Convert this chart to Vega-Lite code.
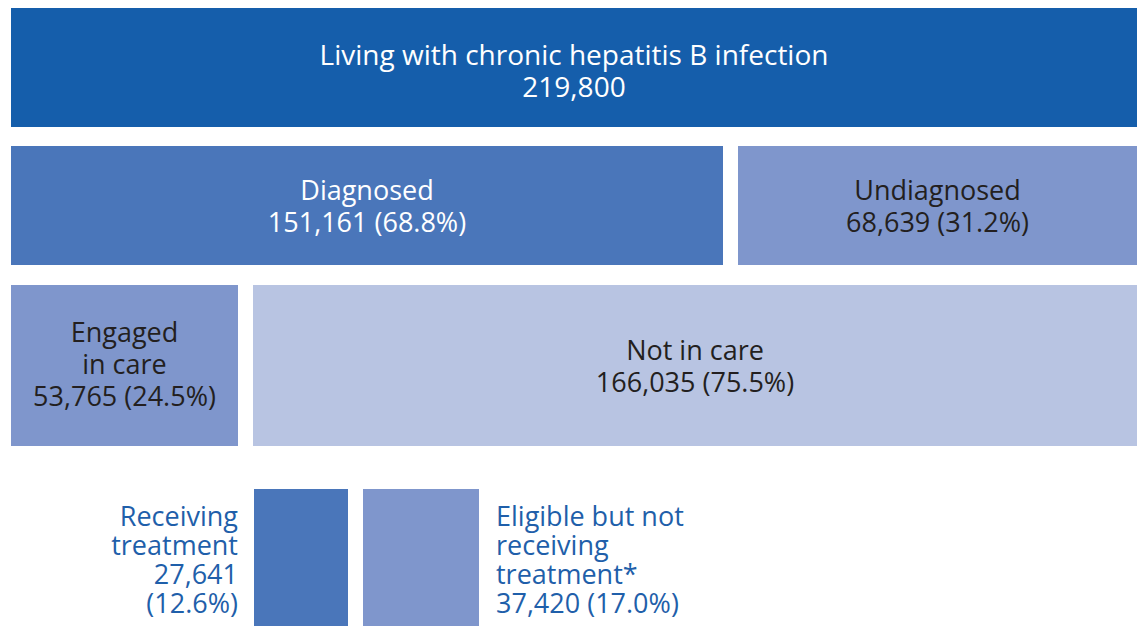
{
  "$schema": "https://vega.github.io/schema/vega-lite/v6.json",
  "width": 1137,
  "height": 626,
  "padding": 0,
  "autosize": {"type": "none"},
  "background": "white",
  "config": {"view": {"stroke": null}},
  "data": {
    "values": [
      {"label": "Living with chronic hepatitis B infection\n219,800", "count": 219800, "level": 1, "side": "center", "shade": "dark", "x0": 11, "x1": 1137, "y0": 8, "y1": 127},
      {"label": "Diagnosed\n151,161 (68.8%)", "count": 151161, "level": 2, "side": "center", "shade": "mid", "x0": 11, "x1": 723, "y0": 146, "y1": 265},
      {"label": "Undiagnosed\n68,639 (31.2%)", "count": 68639, "level": 2, "side": "center", "shade": "light", "x0": 738, "x1": 1137, "y0": 146, "y1": 265},
      {"label": "Engaged\nin care\n53,765 (24.5%)", "count": 53765, "level": 3, "side": "center", "shade": "light", "x0": 11, "x1": 238, "y0": 285, "y1": 446},
      {"label": "Not in care\n166,035 (75.5%)", "count": 166035, "level": 3, "side": "center", "shade": "pale", "x0": 253, "x1": 1137, "y0": 285, "y1": 446},
      {"label": "Receiving\ntreatment\n27,641\n(12.6%)", "count": 27641, "level": 4, "side": "left", "shade": "mid", "x0": 254, "x1": 348, "y0": 489, "y1": 626},
      {"label": "Eligible but not\nreceiving\ntreatment*\n37,420 (17.0%)", "count": 37420, "level": 4, "side": "right", "shade": "light", "x0": 363, "x1": 479, "y0": 489, "y1": 626}
    ]
  },
  "transform": [
    {"calculate": "(datum.x0 + datum.x1) / 2", "as": "cx"},
    {"calculate": "(datum.y0 + datum.y1) / 2", "as": "cy"}
  ],
  "resolve": {"scale": {"color": "independent"}},
  "layer": [
    {
      "mark": {"type": "rect"},
      "encoding": {
        "x": {"field": "x0", "type": "quantitative", "scale": {"domain": [0, 1137], "nice": false, "zero": false}, "axis": null},
        "x2": {"field": "x1"},
        "y": {"field": "y0", "type": "quantitative", "scale": {"domain": [0, 626], "nice": false, "zero": false, "reverse": true}, "axis": null},
        "y2": {"field": "y1"},
        "color": {"field": "shade", "type": "nominal", "legend": null,
          "scale": {"domain": ["dark", "mid", "light", "pale"], "range": ["#155EAB", "#4A76BA", "#7F96CC", "#B8C4E2"]}}
      }
    },
    {
      "transform": [{"filter": "datum.level == 1"}],
      "mark": {"type": "text", "align": "center", "baseline": "middle", "font": "Open Sans", "fontSize": 28, "lineHeight": 32, "lineBreak": "\n", "dy": -11, "color": "#FFFFFF"},
      "encoding": {
        "x": {"field": "cx", "type": "quantitative"},
        "y": {"field": "cy", "type": "quantitative"},
        "text": {"field": "label", "type": "nominal"}
      }
    },
    {
      "transform": [{"filter": "(datum.level == 2 || datum.level == 3) && length(split(datum.label, '\\n')) == 2"}],
      "mark": {"type": "text", "align": "center", "baseline": "middle", "font": "Open Sans", "fontSize": 27, "lineHeight": 32, "lineBreak": "\n", "dy": -14},
      "encoding": {
        "x": {"field": "cx", "type": "quantitative"},
        "y": {"field": "cy", "type": "quantitative"},
        "text": {"field": "label", "type": "nominal"},
        "color": {"field": "shade", "type": "nominal", "legend": null,
          "scale": {"domain": ["dark", "mid", "light", "pale"], "range": ["#FFFFFF", "#FFFFFF", "#231F20", "#231F20"]}}
      }
    },
    {
      "transform": [{"filter": "datum.level < 4 && length(split(datum.label, '\\n')) == 3"}],
      "mark": {"type": "text", "align": "center", "baseline": "middle", "font": "Open Sans", "fontSize": 27, "lineHeight": 32, "lineBreak": "\n", "dy": -32, "color": "#231F20"},
      "encoding": {
        "x": {"field": "cx", "type": "quantitative"},
        "y": {"field": "cy", "type": "quantitative"},
        "text": {"field": "label", "type": "nominal"}
      }
    },
    {
      "transform": [{"filter": "datum.side == 'left'"}],
      "mark": {"type": "text", "align": "right", "baseline": "middle", "font": "Open Sans", "fontSize": 27, "lineHeight": 29, "lineBreak": "\n", "dx": -16, "dy": -40, "color": "#1F5FAA"},
      "encoding": {
        "x": {"field": "x0", "type": "quantitative"},
        "y": {"field": "cy", "type": "quantitative"},
        "text": {"field": "label", "type": "nominal"}
      }
    },
    {
      "transform": [{"filter": "datum.side == 'right'"}],
      "mark": {"type": "text", "align": "left", "baseline": "middle", "font": "Open Sans", "fontSize": 27, "lineHeight": 29, "lineBreak": "\n", "dx": 17, "dy": -40, "color": "#1F5FAA"},
      "encoding": {
        "x": {"field": "x1", "type": "quantitative"},
        "y": {"field": "cy", "type": "quantitative"},
        "text": {"field": "label", "type": "nominal"}
      }
    }
  ]
}
